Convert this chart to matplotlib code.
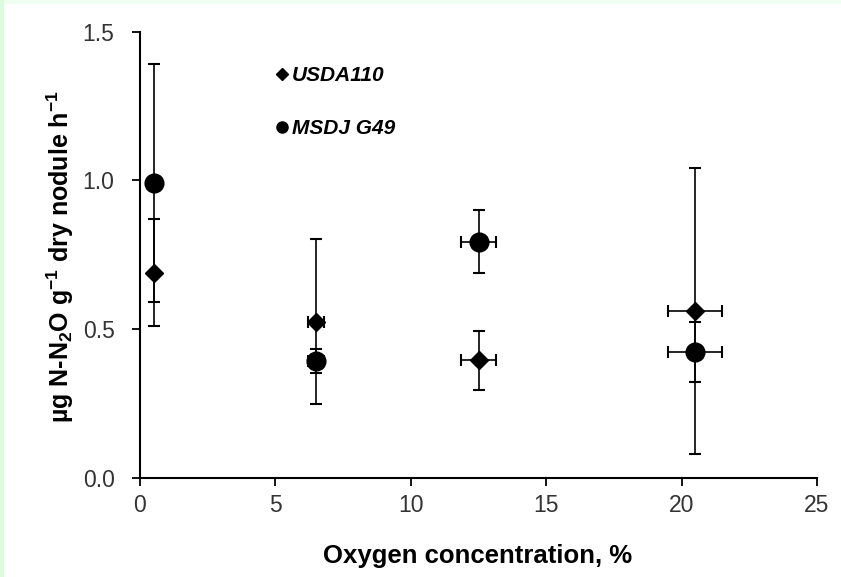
import matplotlib
matplotlib.use("Agg")
import matplotlib.pyplot as plt
from matplotlib.lines import Line2D
from matplotlib.patches import Rectangle

plt.rcParams['font.family'] = ['Liberation Sans', 'DejaVu Sans']
plt.rcParams['mathtext.fontset'] = 'custom'
plt.rcParams['mathtext.rm'] = 'Liberation Sans:bold'
plt.rcParams['mathtext.bf'] = 'Liberation Sans:bold'
plt.rcParams['mathtext.it'] = 'Liberation Sans:bold:italic'
plt.rcParams['mathtext.default'] = 'bf'

# Data
oxygen = [0.5, 6.5, 12.5, 20.5]
usda_y = [0.69, 0.525, 0.395, 0.56]
usda_yerr = [0.18, 0.278, 0.10, 0.48]
usda_xerr = [0.0, 0.3, 0.65, 1.0]
msdj_y = [0.99, 0.393, 0.794, 0.422]
msdj_yerr = [0.40, 0.04, 0.106, 0.10]
msdj_xerr = [0.0, 0.3, 0.65, 1.0]
series_names = ['USDA110', 'MSDJ G49']
x_ticks = [0, 5, 10, 15, 20, 25]
y_ticks = [0.0, 0.5, 1.0, 1.5]
y_ticklabels = ['0.0', '0.5', '1.0', '1.5']

W, H = 841, 577
fig = plt.figure(figsize=(W / 100, H / 100), dpi=100)
fig.patch.set_facecolor('white')
# light green frame strips
fig.patches.append(Rectangle((0, 1 - 4 / H), 1, 4 / H, transform=fig.transFigure,
                             facecolor='#effff0', edgecolor='none', zorder=0))
fig.patches.append(Rectangle((0, 0), 4 / W, 1, transform=fig.transFigure,
                             facecolor='#dcfcdc', edgecolor='none', zorder=0))

ax = fig.add_axes([140 / W, (H - 477.7) / H, 677 / W, 446 / H])
ax.set_facecolor('white')

ekw = dict(ecolor='black', elinewidth=1.2, capsize=4.3, capthick=1.5, linestyle='none')
ax.errorbar(oxygen, usda_y, yerr=usda_yerr, xerr=usda_xerr, fmt='D', color='black',
            markersize=8.8, zorder=3, **ekw)
ax.errorbar(oxygen, msdj_y, yerr=msdj_yerr, xerr=msdj_xerr, fmt='o', color='black',
            markersize=13.5, zorder=4, **ekw)

ax.set_xlim(0, 25)
ax.set_ylim(0, 1.5)
ax.set_xticks(x_ticks)
ax.set_yticks(y_ticks)
ax.set_yticklabels(y_ticklabels)
for s in ['top', 'right']:
    ax.spines[s].set_visible(False)
for s in ['left', 'bottom']:
    ax.spines[s].set_linewidth(1.5)
ax.tick_params(axis='both', direction='out', length=5.8, width=1.3,
               labelsize=16.5, labelcolor='#333333')
ax.tick_params(axis='y', pad=12.5)
ax.tick_params(axis='x', pad=6)

fig.text(478 / W, 1 - 563 / H, 'Oxygen concentration, %', ha='center', va='baseline',
         fontsize=18.5, fontweight='bold')
fig.text(60 / W, 1 - 257 / H, r'µg N-N$_{2}$O g$^{-1}$ dry nodule h$^{-1}$',
         rotation=90, ha='center', va='center', fontsize=18, fontweight='bold')

handles = [Line2D([], [], marker='D', color='black', linestyle='none', markersize=6.0),
           Line2D([], [], marker='o', color='black', linestyle='none', markersize=8.0)]
leg = ax.legend(handles, series_names, loc='upper left',
                bbox_to_anchor=(275.8 / W, 1 - 66 / H), bbox_transform=fig.transFigure,
                frameon=False, borderpad=0, borderaxespad=0, handlelength=0.6,
                handletextpad=0.18, labelspacing=1.65,
                prop=dict(family='Liberation Sans', weight='bold', style='italic', size=15))

fig.savefig('out.png', dpi=100, facecolor='white')
